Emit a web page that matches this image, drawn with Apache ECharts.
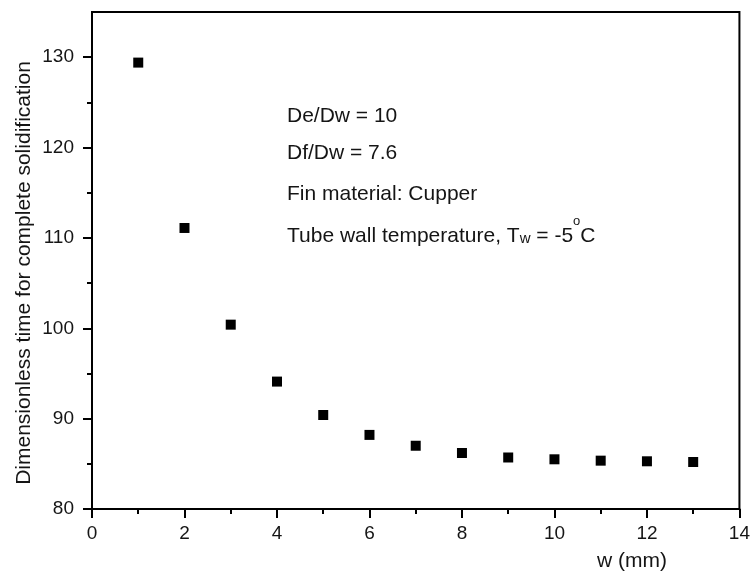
<!DOCTYPE html>
<html>
<head>
<meta charset="utf-8">
<script src="https://cdn.jsdelivr.net/npm/echarts@6/dist/echarts.min.js"></script>
<style>
  html, body { margin: 0; padding: 0; background: #fff; }
  #chart { width: 753px; height: 576px; }
</style>
</head>
<body>
<div id="chart"></div>
<script>
// Fin thickness w (mm) and the dimensionless time needed for complete solidification
const finWidthMm = [1, 2, 3, 4, 5, 6, 7, 8, 9, 10, 11, 12, 13];
const solidTime = [129.4, 111.1, 100.4, 94.1, 90.4, 88.2, 87.0, 86.2, 85.7, 85.5, 85.35, 85.28, 85.2];

// Axis ticks
const yMajorTicks = [80, 90, 100, 110, 120, 130];
const yMinorTicks = [85, 95, 105, 115, 125];

// Case description
const noteLines = ['De/Dw = 10', 'Df/Dw = 7.6', 'Fin material: Cupper'];
const xTitle = 'w (mm)';
const yTitle = 'Dimensionless time for complete solidification';

const FONT = '"Liberation Sans", Arial, Helvetica, sans-serif';
const INK = '#151515';

const chart = echarts.init(document.getElementById('chart'), null, { renderer: 'canvas' });

const tickLine = { color: '#000', width: 2 };

const noteTops = [106, 143, 183.5];

chart.setOption({
  animation: false,
  backgroundColor: '#fff',
  grid: {
    left: 92, right: 10, top: 12, bottom: 67,
    show: true, borderColor: '#000', borderWidth: 2, backgroundColor: 'transparent'
  },
  xAxis: {
    type: 'value',
    min: 0, max: 14, interval: 2,
    axisLine: { lineStyle: tickLine },
    axisTick: { show: true, inside: false, length: 9, lineStyle: tickLine },
    minorTick: { show: true, splitNumber: 2, length: 5, lineStyle: tickLine },
    splitLine: { show: false },
    minorSplitLine: { show: false },
    axisLabel: { fontSize: 19, color: INK, fontFamily: FONT, margin: 15 }
  },
  yAxis: [
    {
      type: 'value',
      position: 'left',
      min: 80, max: 135, interval: 10,
      axisLine: { show: true, lineStyle: tickLine },
      axisTick: { show: true, inside: false, length: 9, lineStyle: tickLine, customValues: yMajorTicks },
      splitLine: { show: false },
      axisLabel: { fontSize: 19, color: INK, fontFamily: FONT, margin: 18, customValues: yMajorTicks }
    },
    {
      type: 'value',
      position: 'left',
      min: 80, max: 135,
      axisLine: { show: false },
      axisTick: { show: true, inside: false, length: 5, lineStyle: tickLine, customValues: yMinorTicks },
      splitLine: { show: false },
      axisLabel: { show: false }
    }
  ],
  series: [{
    type: 'scatter',
    yAxisIndex: 0,
    symbol: 'rect',
    symbolSize: 10,
    itemStyle: { color: '#000', opacity: 1 },
    data: finWidthMm.map((w, i) => [w, solidTime[i]])
  }],
  graphic: [
    ...noteLines.map((t, i) => ({
      type: 'text', left: 287, top: noteTops[i], silent: true,
      style: { text: t, fontSize: 21, fontFamily: FONT, fill: INK }
    })),
    {
      type: 'text', left: 287, top: 214.5, silent: true,
      style: {
        text: '{a|Tube wall temperature, T}{s|w}{a| = -5}{p|o}{a|C}',
        fill: INK,
        rich: {
          a: { fontSize: 21, fontFamily: FONT, fill: INK, lineHeight: 44, verticalAlign: 'middle' },
          s: { fontSize: 15, fontFamily: FONT, fill: INK, lineHeight: 15, padding: [4, 0, 0, 0], verticalAlign: 'middle' },
          p: { fontSize: 13, fontFamily: FONT, fill: INK, lineHeight: 13, verticalAlign: 'top' }
        }
      }
    },
    {
      type: 'text', x: 632, y: 561.5, silent: true,
      style: { text: xTitle, fontSize: 21, fontFamily: FONT, fill: INK, align: 'center', verticalAlign: 'middle' }
    },
    {
      type: 'text', x: 24, y: 273, rotation: Math.PI / 2, silent: true,
      style: { text: yTitle, fontSize: 21, fontFamily: FONT, fill: INK, align: 'center', verticalAlign: 'middle' }
    }
  ]
});
</script>
</body>
</html>
